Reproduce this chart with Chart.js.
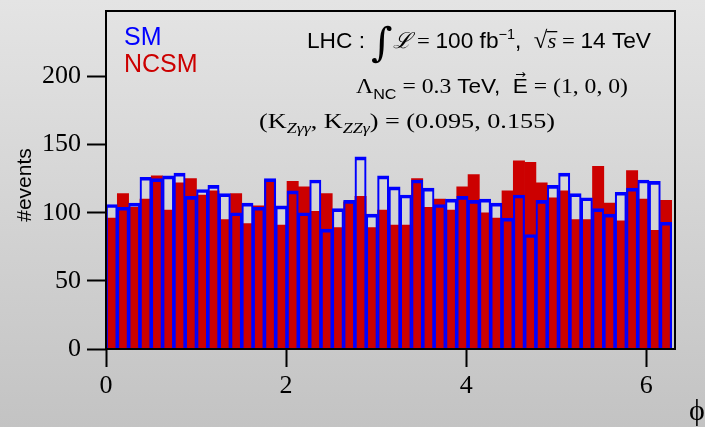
<!DOCTYPE html>
<html>
<head>
<meta charset="utf-8">
<script src="https://cdn.jsdelivr.net/npm/chart.js@4"></script>
<style>
  body { margin: 0; }
  #wrap { width: 705px; height: 427px; background: linear-gradient(#e4e4e4, #c3c3c3); }
</style>
</head>
<body>
<div id="wrap"><canvas id="chart" width="705" height="427"></canvas></div>
<script>
// ----------------- DATA -----------------
// 50 bins in phi between 0 and 2*pi
const nBins = 50;
const phiMax = 2 * Math.PI;

// events per bin, SM (blue outline)
const smCounts = [
	106, 104, 107, 126, 125, 127, 129, 112, 117, 120,
	114, 100, 107, 104, 125, 105, 116, 100, 124, 88,
	103, 109, 141, 99, 127, 119, 113, 124, 118, 106,
	110, 112, 109, 110, 107, 96, 113, 84, 109, 120,
	129, 114, 111, 103, 99, 115, 118, 124, 123, 93
];

// events per bin, NCSM (red filled)
const ncsmCounts = [
	96, 114, 104, 110, 127, 102, 122, 125, 113, 116,
	95, 114, 92, 105, 124, 91, 123, 119, 101, 114,
	89, 108, 112, 89, 102, 91, 91, 125, 104, 110,
	102, 119, 128, 100, 96, 116, 138, 137, 122, 111,
	116, 95, 95, 134, 107, 94, 131, 110, 87, 109
];

const xTicks = [0, 2, 4, 6];
const yTicks = [0, 50, 100, 150, 200];

const SANS = '"Liberation Sans", Arial, sans-serif';
const SERIF = '"Liberation Serif", "DejaVu Serif", serif';

// bin centres
const binCentre = i => (i + 0.5) * phiMax / nBins;
const smData = smCounts.map((v, i) => ({ x: binCentre(i), y: v }));
const ncsmData = ncsmCounts.map((v, i) => ({ x: binCentre(i), y: v }));

// ----------------- RICH TEXT -----------------
// draws a run of segments with mixed fonts, stretched to a given width
function drawRich(ctx, x, y, width, parts) {
	let total = 0;
	parts.forEach(p => {
		ctx.font = p.f;
		p.w = ctx.measureText(p.t).width;
		total += p.w;
	});
	ctx.save();
	ctx.translate(x, y);
	ctx.scale(width / total, 1);
	ctx.textBaseline = 'alphabetic';
	ctx.textAlign = 'left';
	let cx = 0;
	parts.forEach(p => {
		ctx.font = p.f;
		ctx.fillText(p.t, cx, p.dy || 0);
		if (p.bar) ctx.fillRect(cx - 1, -17, p.w + 2, 1.3);   // sqrt overline
		if (p.arrow) {
			ctx.font = '12px "DejaVu Sans"';
			ctx.textAlign = 'center';
			ctx.fillText('\u2192', cx + p.w / 2, -15);
			ctx.textAlign = 'left';
		}
		cx += p.w;
	});
	ctx.restore();
}

// ----------------- OVERLAY PLUGIN -----------------
const overlay = {
	id: 'overlay',
	afterDatasetsDraw(chart) {
		const { ctx, chartArea: a } = chart;
		ctx.save();
		ctx.strokeStyle = '#000';
		ctx.lineWidth = 2;
		ctx.strokeRect(a.left, a.top, a.right - a.left, a.bottom - a.top);
		ctx.restore();
	},
	afterDraw(chart) {
		const ctx = chart.ctx;
		ctx.save();
		ctx.fillStyle = '#000';

		// legend
		ctx.font = `25px ${SANS}`;
		ctx.fillStyle = '#0000ff';
		ctx.fillText('SM', 124, 45);
		ctx.fillStyle = '#cc0000';
		ctx.fillText('NCSM', 124, 72);
		ctx.fillStyle = '#000';

		// annotation lines
		drawRich(ctx, 307, 48, 344, [
			{ t: 'LHC : ', f: `22px ${SANS}` },
			{ t: '\u222B', f: `40px "DejaVu Serif"`, dy: 8 },
			{ t: '\u2112', f: `italic 22px ${SERIF}` },
			{ t: ' = ', f: `22px ${SERIF}` },
			{ t: '100 fb', f: `22px ${SANS}` },
			{ t: '\u22121', f: `14px ${SANS}`, dy: -9 },
			{ t: ',  ', f: `22px ${SANS}` },
			{ t: '\u221A', f: `24px ${SERIF}` },
			{ t: 's', f: `italic 22px ${SERIF}`, bar: true },
			{ t: ' = ', f: `22px ${SERIF}` },
			{ t: '14 TeV', f: `22px ${SANS}` }
		]);
		drawRich(ctx, 356, 93, 272, [
			{ t: '\u039B', f: `22px ${SERIF}` },
			{ t: 'NC', f: `15px ${SANS}`, dy: 6 },
			{ t: ' = 0.3 ', f: `22px ${SERIF}` },
			{ t: 'TeV,  ', f: `21px ${SANS}` },
			{ t: 'E', f: `21px ${SANS}`, arrow: true },
			{ t: ' = (1, 0, 0)', f: `22px ${SERIF}` }
		]);
		drawRich(ctx, 259, 128, 296, [
			{ t: '(K', f: `22px ${SERIF}` },
			{ t: 'Z\u03B3\u03B3', f: `italic 15px ${SERIF}`, dy: 5 },
			{ t: ', K', f: `22px ${SERIF}` },
			{ t: 'ZZ\u03B3', f: `italic 15px ${SERIF}`, dy: 5 },
			{ t: ') = (0.095, 0.155)', f: `22px ${SERIF}` }
		]);

		// axis titles
		ctx.font = `21px ${SANS}`;
		ctx.textAlign = 'center';
		ctx.textBaseline = 'middle';
		ctx.save();
		ctx.translate(25, 185);
		ctx.rotate(-Math.PI / 2);
		ctx.fillText('#events', 0, 0);
		ctx.restore();

		ctx.font = `30px ${SERIF}`;
		ctx.textBaseline = 'alphabetic';
		ctx.fillText('\u03D5', 697, 420);
		ctx.restore();
	}
};

// drop the label overhang padding so the plot box sits where the reference has it
const noPad = s => { s.paddingTop = 0; s.paddingBottom = 0; s.paddingLeft = 0; s.paddingRight = 0; };

// ----------------- CHART -----------------
const ctx = document.getElementById('chart').getContext('2d');
new Chart(ctx, {
	type: 'bar',
	data: {
		datasets: [
			{
				label: 'SM',
				data: smData,
				backgroundColor: 'rgba(0,0,0,0)',
				borderColor: '#0000ff',
				borderWidth: { top: 3, left: 1.5, right: 1.5, bottom: 0 },
				borderSkipped: 'start',
				grouped: false,
				barPercentage: 1,
				categoryPercentage: 1
			},
			{
				label: 'NCSM',
				data: ncsmData,
				backgroundColor: '#cc0000',
				borderWidth: 0,
				grouped: false,
				barPercentage: 1,
				categoryPercentage: 1
			}
		]
	},
	options: {
		responsive: false,
		animation: false,
		layout: { padding: { top: 11, right: 30, left: 0, bottom: 0 } },
		plugins: {
			legend: { display: false },
			tooltip: { enabled: false }
		},
		scales: {
			x: {
				type: 'linear',
				min: 0,
				max: 6.32,
				offset: false,
				afterBuildTicks: s => { s.ticks = xTicks.map(v => ({ value: v })); },
				afterFit: s => { s.height = 78; noPad(s); },
				border: { display: false },
				grid: { offset: false, drawOnChartArea: false, tickLength: 18, tickWidth: 2, tickColor: '#000' },
				ticks: {
					color: '#000',
					font: { family: SERIF, size: 26 },
					padding: 4,
					maxRotation: 0,
					autoSkip: false,
					callback: v => String(v)
				}
			},
			y: {
				min: 0,
				max: 248,
				afterBuildTicks: s => { s.ticks = yTicks.map(v => ({ value: v })); },
				afterFit: s => { s.width = 106; noPad(s); },
				border: { display: false },
				grid: { drawOnChartArea: false, tickLength: 19, tickWidth: 2, tickColor: '#000' },
				ticks: {
					color: '#000',
					font: { family: SERIF, size: 26 },
					padding: 6,
					callback: v => String(v)
				}
			}
		}
	},
	plugins: [overlay]
});
</script>
</body>
</html>
